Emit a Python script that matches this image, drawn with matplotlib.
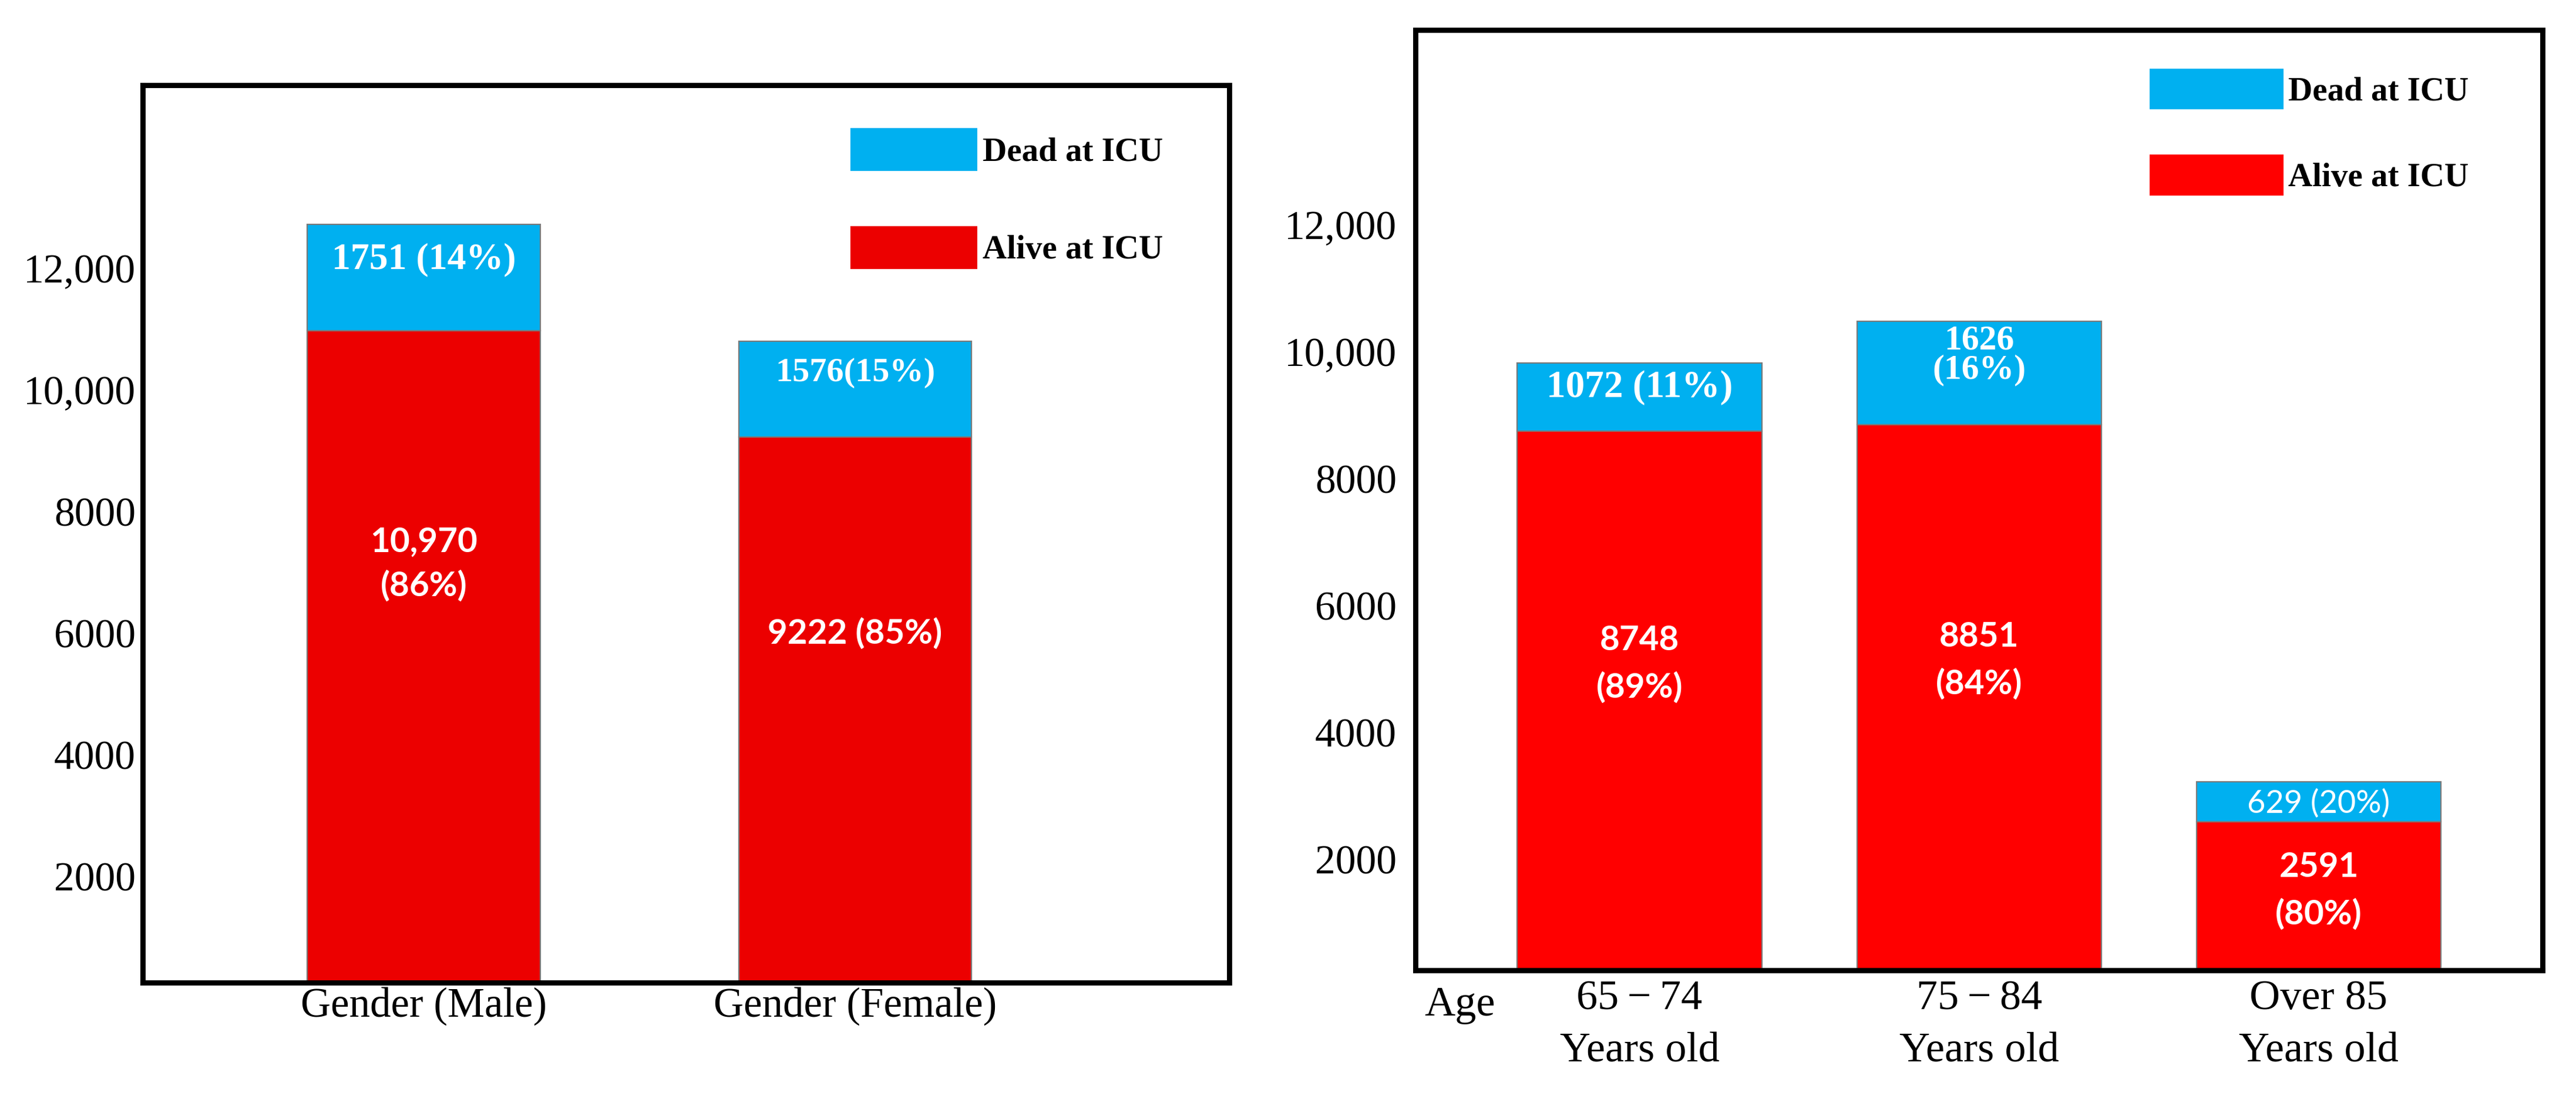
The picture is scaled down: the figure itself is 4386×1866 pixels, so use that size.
import matplotlib
matplotlib.use("Agg")
import matplotlib.pyplot as plt
from matplotlib.patches import Patch
from matplotlib.transforms import blended_transform_factory

# ---------------- data ----------------
gender_categories = ['Gender (Male)', 'Gender (Female)']
gender_alive = [10970, 9222]
gender_dead = [1751, 1576]
gender_alive_pct = [86, 85]
gender_dead_pct = [14, 15]
gender_alive_sep = ['\n', ' ']
gender_dead_sep = [' ', '']

age_categories = ['65\u2009\u2212\u200974\nYears old', '75\u2009\u2212\u200984\nYears old', 'Over 85\nYears old']
age_alive = [8748, 8851, 2591]
age_dead = [1072, 1626, 629]
age_alive_pct = [89, 84, 80]
age_dead_pct = [11, 16, 20]
age_alive_sep = ['\n', '\n', '\n']
age_dead_sep = [' ', '\n', ' ']

ytick_values = [2000, 4000, 6000, 8000, 10000, 12000]
ytick_labels = ['2000', '4000', '6000', '8000', '10,000', '12,000']

legend_labels = ['Dead at ICU', 'Alive at ICU']

BLUE = '#00B0F0'
RED_L = '#EC0000'
RED_R = '#FF0000'
EDGE = '#7a7a7a'
SERIF = ['Liberation Serif', 'DejaVu Serif']
SANS = ['Lato', 'DejaVu Sans']


def num(v):
    return f"{v:,}" if v >= 10000 else str(v)


fig = plt.figure(figsize=(21.93, 9.33), dpi=200)
fig.patch.set_facecolor('white')

ax1 = fig.add_axes([243 / 4386, 1 - 1673 / 1866, 1850 / 4386, 1528 / 1866])
ax2 = fig.add_axes([2410 / 4386, 1 - 1652 / 1866, 1919 / 4386, 1601 / 1866])


def style_axes(ax, ylim, xlim, ypad, xpad):
    ax.set_ylim(*ylim)
    ax.set_xlim(*xlim)
    for s in ax.spines.values():
        s.set_linewidth(3.2)
        s.set_color('black')
    ax.set_yticks(ytick_values)
    ax.set_yticklabels(ytick_labels, family=SERIF, fontsize=25)
    ax.tick_params(axis='both', length=0)
    ax.tick_params(axis='y', pad=ypad)
    ax.tick_params(axis='x', pad=xpad)


# ---------------- left panel ----------------
x1 = list(range(len(gender_categories)))
ax1.bar(x1, gender_alive, width=0.54, color=RED_L, edgecolor=EDGE, linewidth=0.8)
ax1.bar(x1, gender_dead, width=0.54, bottom=gender_alive, color=BLUE, edgecolor=EDGE, linewidth=0.8)
style_axes(ax1, (250, 15013), (-0.651, 1.867), 4.3, 2.5)
ax1.set_xticks(x1)
ax1.set_xticklabels(gender_categories, family=SERIF, fontsize=25.5)

dead_fs_l = [23, 21]
for i in x1:
    a, d = gender_alive[i], gender_dead[i]
    ax1.text(i, a * 0.65, f"{num(a)}{gender_alive_sep[i]}({gender_alive_pct[i]}%)",
             ha='center', va='center', color='white', fontweight='bold',
             family=SANS, fontsize=21, linespacing=1.46)
    ax1.text(i, a + d * 0.67, f"{num(d)}{gender_dead_sep[i]}({gender_dead_pct[i]}%)",
             ha='center', va='center', color='white', family=SERIF,
             fontweight='bold', fontsize=dead_fs_l[i])

h1 = [Patch(facecolor=BLUE, edgecolor='none'), Patch(facecolor=RED_L, edgecolor='none')]
ax1.legend(h1, legend_labels, loc='upper left', bbox_to_anchor=(0.6514, 0.9522),
           frameon=False, borderpad=0, borderaxespad=0, handlelength=3.8,
           handleheight=1.6, labelspacing=1.65, handletextpad=0.15,
           prop={'family': SERIF, 'weight': 'bold', 'size': 20.5})

# ---------------- right panel ----------------
x2 = list(range(len(age_categories)))
ax2.bar(x2, age_alive, width=0.72, color=RED_R, edgecolor=EDGE, linewidth=0.8)
ax2.bar(x2, age_dead, width=0.72, bottom=age_alive, color=BLUE, edgecolor=EDGE, linewidth=0.8)
style_axes(ax2, (250, 15074), (-0.66, 2.659), 11.5, 5.8)
ax2.set_xticks(x2)
ax2.set_xticklabels(age_categories, family=SERIF, fontsize=26, linespacing=1.48)

dead_fs_r = [23.5, 21.5, 19.5]
dead_family_r = [SERIF, SERIF, SANS]
dead_weight_r = ['bold', 'bold', 'normal']
dead_pos_r = [0.64, 0.67, 0.46]
for i in x2:
    a, d = age_alive[i], age_dead[i]
    ax2.text(i, a * 0.58, f"{num(a)}{age_alive_sep[i]}({age_alive_pct[i]}%)",
             ha='center', va='center', color='white', fontweight='bold',
             family=SANS, fontsize=21, linespacing=1.6)
    ax2.text(i, a + d * dead_pos_r[i], f"{num(d)}{age_dead_sep[i]}({age_dead_pct[i]}%)",
             ha='center', va='center', color='white', family=dead_family_r[i],
             fontweight=dead_weight_r[i], fontsize=dead_fs_r[i], linespacing=0.92)

trans = blended_transform_factory(ax2.transData, ax2.transAxes)
ax2.text(-0.53, -0.0481, 'Age', transform=trans, ha='center', va='baseline',
         family=SERIF, fontsize=26)

h2 = [Patch(facecolor=BLUE, edgecolor='none'), Patch(facecolor=RED_R, edgecolor='none')]
ax2.legend(h2, legend_labels, loc='upper left', bbox_to_anchor=(0.6514, 0.9588),
           frameon=False, borderpad=0, borderaxespad=0, handlelength=4.0,
           handleheight=1.5, labelspacing=1.35, handletextpad=0.15,
           prop={'family': SERIF, 'weight': 'bold', 'size': 20.5})

fig.savefig('out.png', dpi=200, facecolor='white')
